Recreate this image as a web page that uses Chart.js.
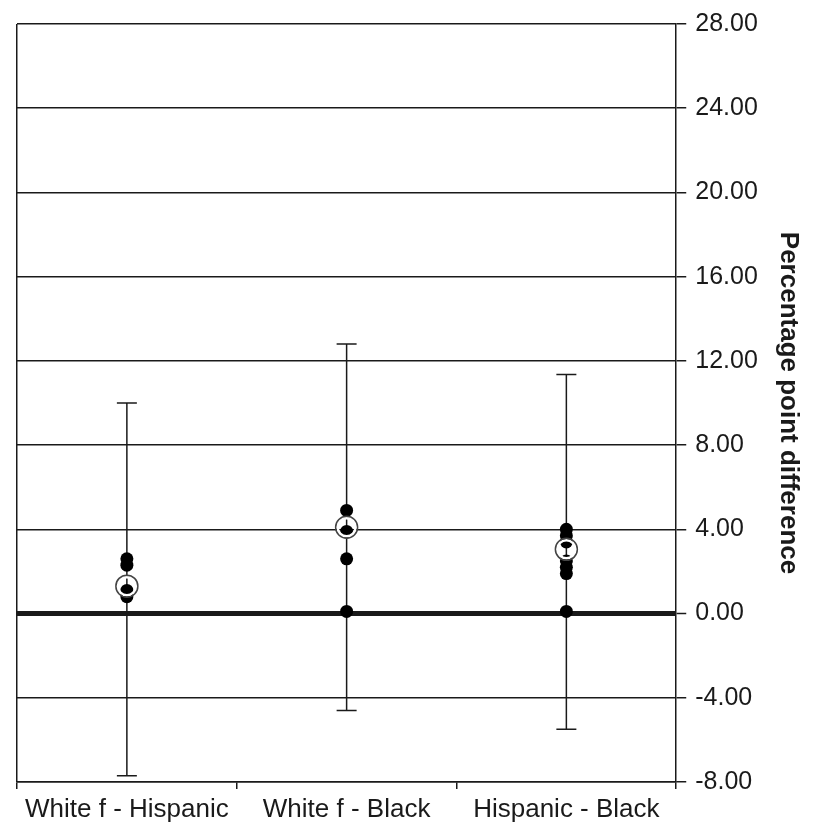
<!DOCTYPE html>
<html>
<head>
<meta charset="utf-8">
<script src="https://cdn.jsdelivr.net/npm/chart.js@4/dist/chart.umd.min.js"></script>
<style>
    html, body { margin: 0; padding: 0; background: #fff; }
    #wrap { position: relative; width: 814px; height: 825px; }
</style>
</head>
<body>
<div id="wrap"><canvas id="diffChart"></canvas></div>
<script>
var categories = ["White f - Hispanic", "White f - Black", "Hispanic - Black"];
var ciHigh = [10.0, 12.8, 11.35];
var ciLow = [-7.7, -4.6, -5.5];
var meanValues = [1.3, 4.1, 3.05];
var estimatesHispanicWhite = [2.6, 2.3, 1.1, 0.8];
var estimatesBlackWhite = [4.9, 3.9, 2.6, 0.1];
var estimatesBlackHispanic = [4.0, 3.7, 3.4, 2.5, 2.2, 1.9, 0.1];
var yTicks = [-8, -4, 0, 4, 8, 12, 16, 20, 24, 28];

(function() {
    "use strict";

    var fontFamily = "'Liberation Sans', Arial, sans-serif";
    var ink = "#1a1a1a";

    function toPoints(category, values) {
        return values.map(function(v) {
            return { x: category, y: v };
        });
    }

    var estimatePoints = []
        .concat(toPoints(categories[0], estimatesHispanicWhite))
        .concat(toPoints(categories[1], estimatesBlackWhite))
        .concat(toPoints(categories[2], estimatesBlackHispanic));

    var meanPoints = categories.map(function(c, i) {
        return { x: c, y: meanValues[i] };
    });

    // whiskers for the confidence range, drawn under the dots
    var errorBars = {
        id: "errorBars",
        beforeDatasetsDraw: function(chart) {
            var ctx = chart.ctx;
            var xs = chart.scales.x;
            var ys = chart.scales.y;
            ctx.save();
            ctx.strokeStyle = ink;
            ctx.lineWidth = 1.5;
            categories.forEach(function(c, i) {
                var x = xs.getPixelForValue(i);
                var top = ys.getPixelForValue(ciHigh[i]);
                var bottom = ys.getPixelForValue(ciLow[i]);
                ctx.beginPath();
                ctx.moveTo(x, top);
                ctx.lineTo(x, bottom);
                ctx.moveTo(x - 10, top);
                ctx.lineTo(x + 10, top);
                ctx.moveTo(x - 10, bottom);
                ctx.lineTo(x + 10, bottom);
                ctx.stroke();
            });
            ctx.restore();
        }
    };

    new Chart(document.getElementById("diffChart").getContext("2d"), {
        type: "line",
        data: {
            labels: categories,
            datasets: [{
                    label: "Estimates",
                    data: estimatePoints,
                    showLine: false,
                    pointRadius: 6.5,
                    pointBackgroundColor: "#000",
                    pointBorderWidth: 0,
                    order: 3
                },
                {
                    label: "Mean halo",
                    data: meanPoints,
                    showLine: false,
                    pointRadius: 9,
                    pointBackgroundColor: "transparent",
                    pointBorderColor: "#fff",
                    pointBorderWidth: 2.5,
                    order: 2
                },
                {
                    label: "Mean",
                    data: meanPoints,
                    showLine: false,
                    pointRadius: 11,
                    pointBackgroundColor: "transparent",
                    pointBorderColor: "#444",
                    pointBorderWidth: 1.5,
                    order: 1
                }
            ]
        },
        options: {
            responsive: true,
            maintainAspectRatio: false,
            animation: false,
            layout: {
                padding: { left: 17, right: 6, top: 11, bottom: -6 }
            },
            plugins: {
                legend: { display: false },
                tooltip: { enabled: false }
            },
            scales: {
                x: {
                    type: "category",
                    offset: true,
                    border: { display: true, color: ink, width: 1.5 },
                    grid: {
                        offset: true,
                        drawOnChartArea: true,
                        color: function(c) {
                            return c.index === 0 ? ink : "rgba(0,0,0,0)";
                        },
                        lineWidth: 1.5,
                        tickColor: ink,
                        tickWidth: 1.5,
                        tickLength: 7
                    },
                    ticks: {
                        color: ink,
                        padding: 8,
                        maxRotation: 0,
                        font: { family: fontFamily, size: 26, lineHeight: 1 }
                    }
                },
                y: {
                    position: "right",
                    min: yTicks[0],
                    max: yTicks[yTicks.length - 1],
                    afterBuildTicks: function(scale) {
                        scale.ticks = yTicks.map(function(v) {
                            return { value: v };
                        });
                    },
                    border: { display: true, color: ink, width: 1.5 },
                    grid: {
                        color: ink,
                        lineWidth: function(c) {
                            return c.tick && c.tick.value === 0 ? 5 : 1.5;
                        },
                        tickColor: ink,
                        tickWidth: 1.5,
                        tickLength: 10
                    },
                    ticks: {
                        color: ink,
                        padding: 9,
                        font: { family: fontFamily, size: 25 },
                        callback: function(v) {
                            return Number(v).toFixed(2);
                        }
                    },
                    title: {
                        display: true,
                        text: "Percentage point difference",
                        color: ink,
                        padding: { top: 4, bottom: 6 },
                        font: { family: fontFamily, size: 26, weight: "bold" }
                    }
                }
            }
        },
        plugins: [errorBars]
    });
})();
</script>
</body>
</html>
